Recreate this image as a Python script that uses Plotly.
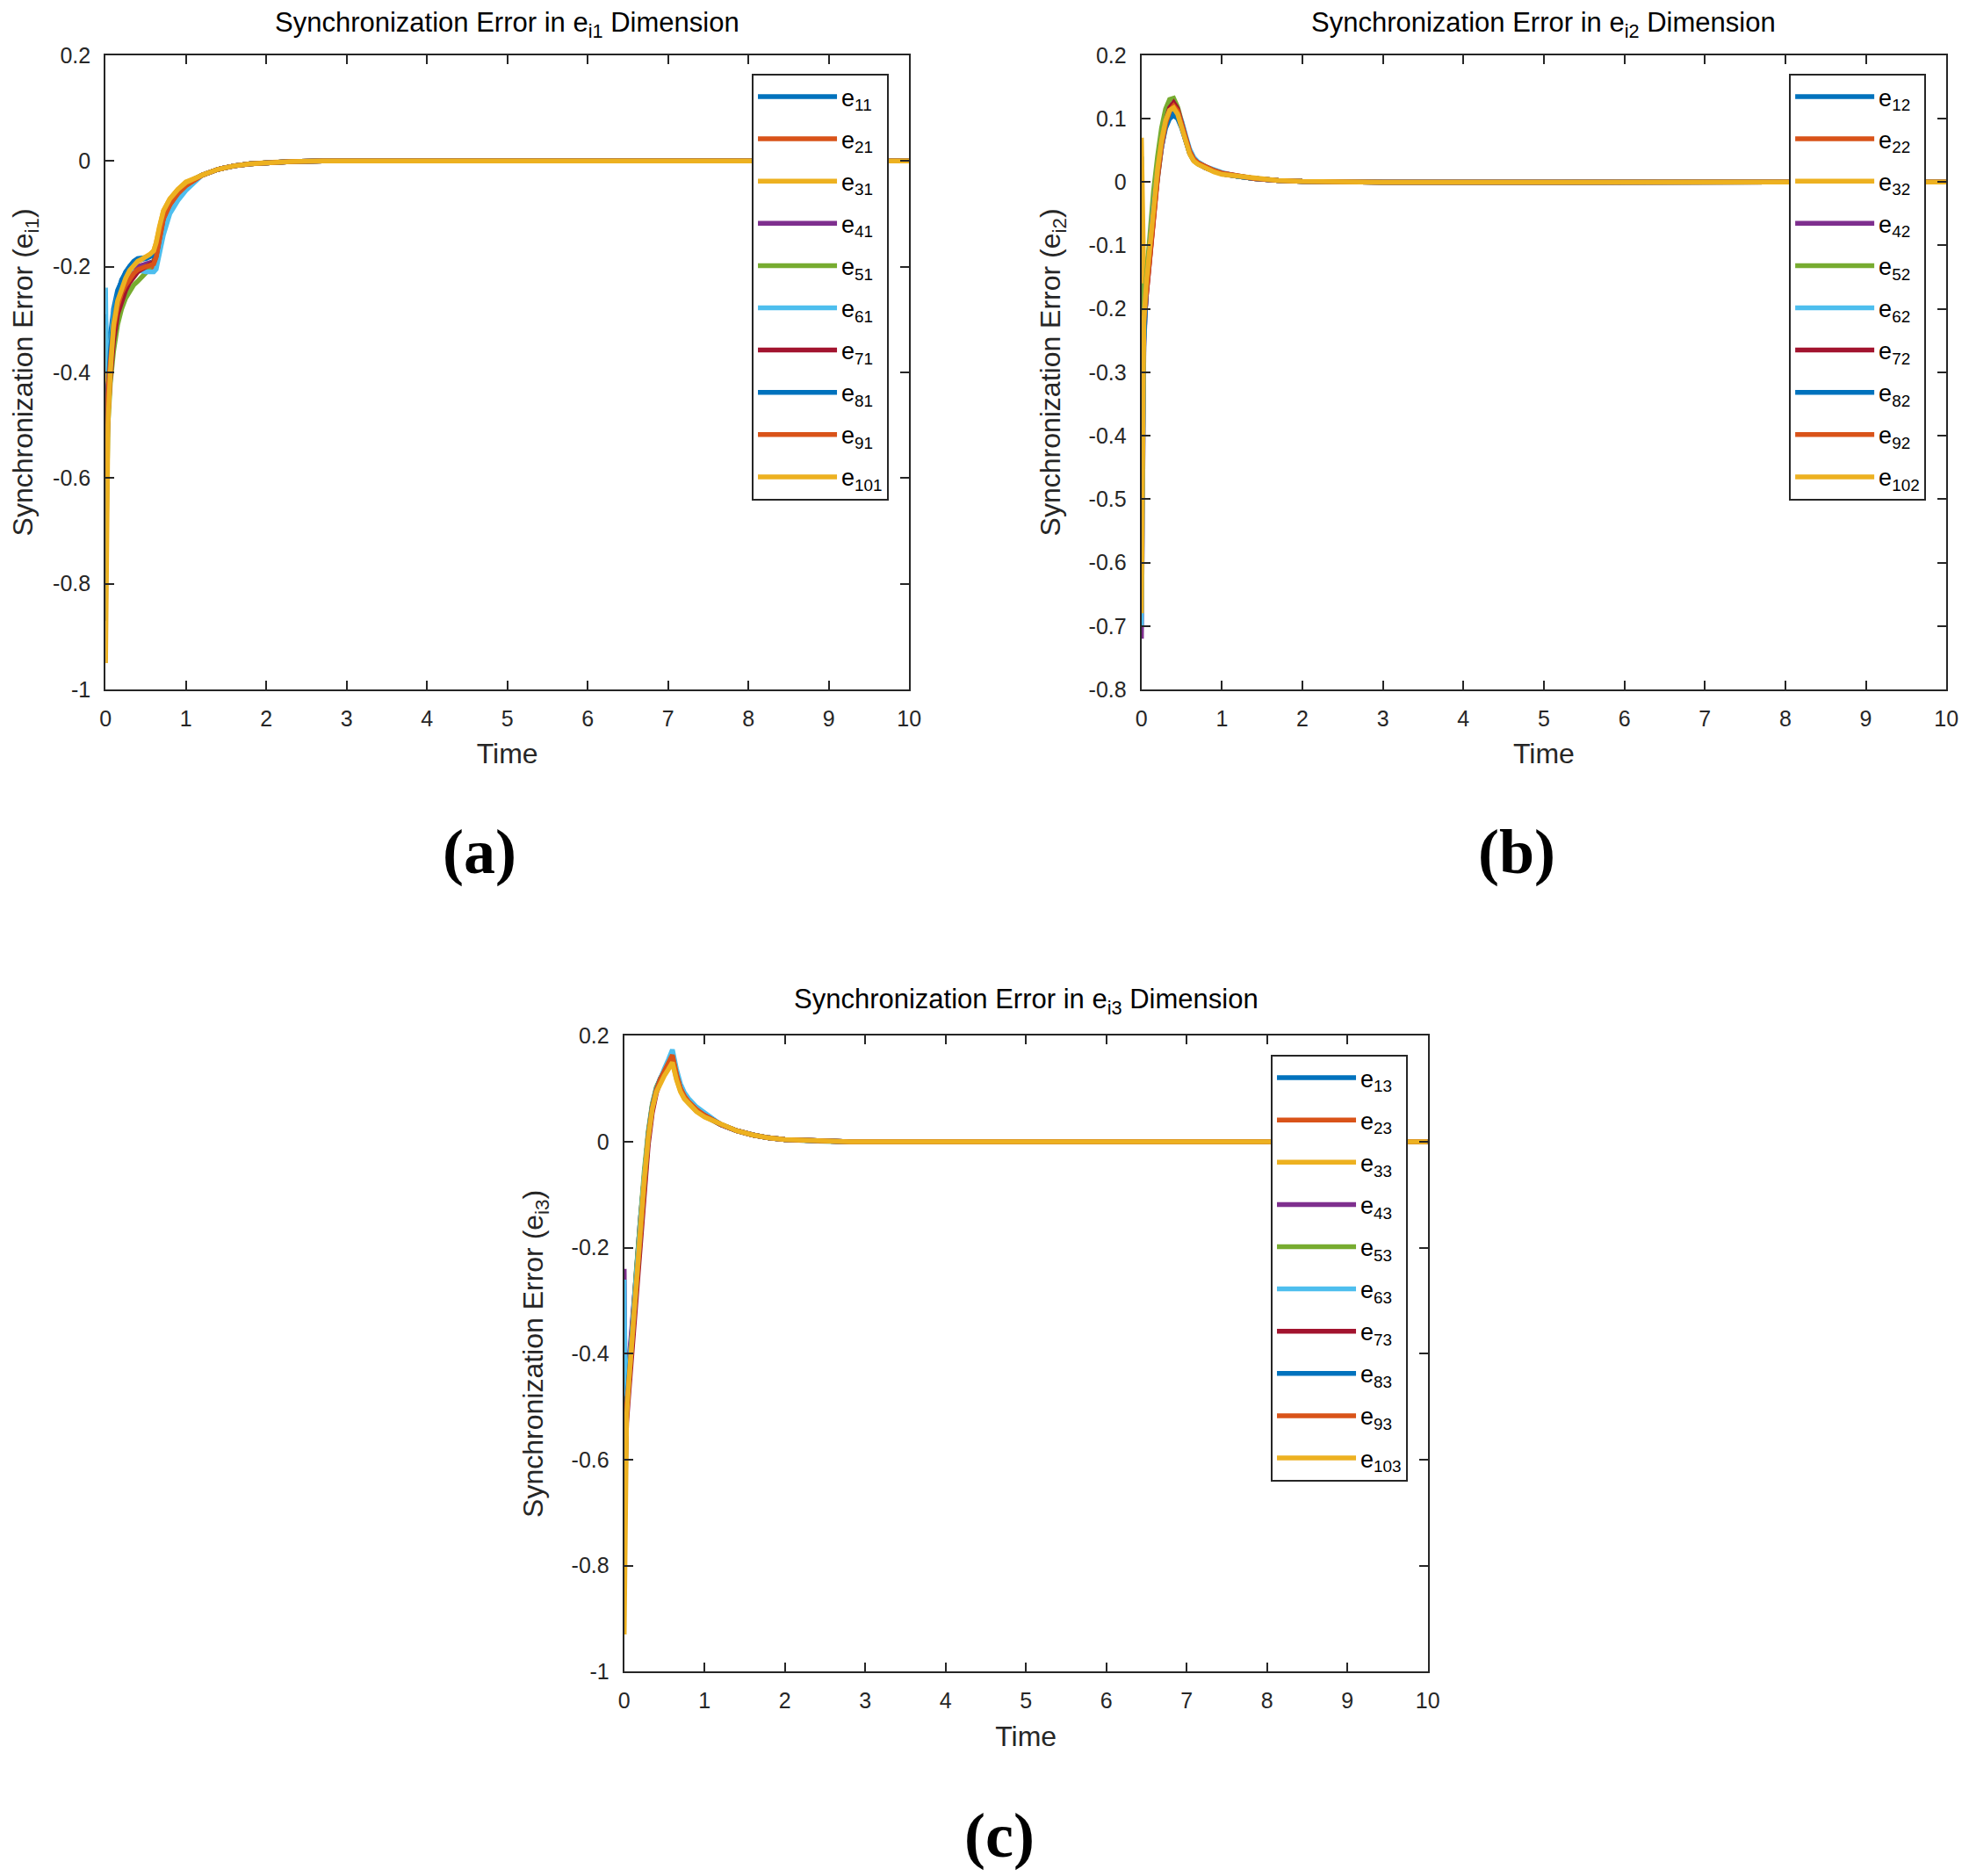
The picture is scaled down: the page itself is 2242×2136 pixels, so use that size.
import plotly.graph_objects as go

# MATLAB default line colours
BLUE = "#0072BD"
ORANGE = "#D95319"
YELLOW = "#EDB120"
PURPLE = "#7E2F8E"
GREEN = "#77AC30"
LIGHTBLUE = "#4DBEEE"
DARKRED = "#A2142F"
SERIES_COLORS = [BLUE, ORANGE, YELLOW, PURPLE, GREEN, LIGHTBLUE, DARKRED, BLUE, ORANGE, YELLOW]

AGENTS = ["1", "2", "3", "4", "5", "6", "7", "8", "9", "10"]

# ---- (a) e_i1 ----
time_a = [0, 0.01, 0.03, 0.06, 0.1, 0.15, 0.2, 0.25, 0.3, 0.35, 0.4, 0.45, 0.5, 0.55, 0.6, 0.63, 0.67,
          0.72, 0.8, 0.9, 1.0, 1.2, 1.4, 1.6, 1.8, 2.0, 2.3, 2.7, 10]
tail_a = [-0.027, -0.016, -0.0095, -0.0055, -0.003, -0.0012, -0.0003, 0]
e_11 = [-0.29, -0.36, -0.37, -0.33, -0.28, -0.245, -0.225, -0.21, -0.2, -0.19, -0.185, -0.185, -0.183, -0.18, -0.175, -0.16, -0.13, -0.1, -0.075, -0.056, -0.043]
e_21 = [-0.53, -0.47, -0.42, -0.37, -0.31, -0.27, -0.245, -0.23, -0.22, -0.21, -0.205, -0.2, -0.198, -0.2, -0.205, -0.19, -0.15, -0.115, -0.085, -0.063, -0.048]
e_31 = [-0.31, -0.4, -0.42, -0.36, -0.3, -0.26, -0.235, -0.22, -0.205, -0.195, -0.19, -0.187, -0.183, -0.178, -0.17, -0.155, -0.125, -0.095, -0.072, -0.054, -0.04]
e_41 = [-0.45, -0.46, -0.43, -0.38, -0.32, -0.28, -0.25, -0.235, -0.22, -0.21, -0.2, -0.197, -0.195, -0.192, -0.19, -0.175, -0.14, -0.105, -0.08, -0.06, -0.045]
e_51 = [-0.78, -0.6, -0.5, -0.42, -0.36, -0.31, -0.28, -0.26, -0.245, -0.235, -0.228, -0.22, -0.212, -0.2, -0.19, -0.175, -0.14, -0.105, -0.08, -0.06, -0.045]
e_61 = [-0.24, -0.38, -0.4, -0.35, -0.29, -0.255, -0.235, -0.222, -0.214, -0.21, -0.208, -0.208, -0.21, -0.21, -0.21, -0.205, -0.175, -0.14, -0.1, -0.075, -0.056]
e_71 = [-0.67, -0.55, -0.48, -0.41, -0.34, -0.29, -0.265, -0.245, -0.23, -0.22, -0.21, -0.205, -0.2, -0.197, -0.192, -0.18, -0.145, -0.108, -0.082, -0.061, -0.046]
e_81 = [-0.87, -0.58, -0.44, -0.36, -0.3, -0.255, -0.225, -0.21, -0.2, -0.192, -0.188, -0.186, -0.185, -0.182, -0.178, -0.165, -0.133, -0.1, -0.076, -0.057, -0.043]
e_91 = [-0.6, -0.5, -0.44, -0.38, -0.32, -0.275, -0.25, -0.235, -0.222, -0.213, -0.206, -0.202, -0.2, -0.198, -0.195, -0.182, -0.147, -0.11, -0.083, -0.062, -0.047]
e_101 = [-0.95, -0.75, -0.5, -0.4, -0.31, -0.265, -0.24, -0.222, -0.207, -0.197, -0.19, -0.186, -0.182, -0.177, -0.17, -0.155, -0.125, -0.095, -0.072, -0.054, -0.041]
heads_a = [e_11, e_21, e_31, e_41, e_51, e_61, e_71, e_81, e_91, e_101]

# ---- (b) e_i2 ----
time_b = [0, 0.01, 0.03, 0.06, 0.1, 0.15, 0.2, 0.25, 0.3, 0.35, 0.4, 0.45, 0.5, 0.55, 0.6, 0.65, 0.7,
          0.8, 0.9, 1.0, 1.2, 1.4, 1.7, 2.0, 3.0, 10]
tail_b = [0.009, 0.0055, 0.0025, 0.001, -0.0005, 0]
e_12 = [0.04, -0.2, -0.2, -0.17, -0.115, -0.045, 0.01, 0.055, 0.085, 0.1, 0.105, 0.1, 0.085, 0.063, 0.045, 0.034, 0.029, 0.022, 0.017, 0.013]
e_22 = [-0.39, -0.3, -0.23, -0.18, -0.125, -0.055, 0.005, 0.055, 0.09, 0.11, 0.118, 0.11, 0.092, 0.068, 0.048, 0.036, 0.03, 0.023, 0.018, 0.014]
e_32 = [0.07, -0.05, -0.16, -0.15, -0.1, -0.035, 0.02, 0.065, 0.095, 0.113, 0.117, 0.108, 0.09, 0.066, 0.045, 0.034, 0.029, 0.022, 0.017, 0.013]
e_42 = [-0.72, -0.45, -0.26, -0.17, -0.11, -0.04, 0.015, 0.06, 0.093, 0.11, 0.115, 0.107, 0.09, 0.066, 0.046, 0.035, 0.029, 0.022, 0.017, 0.013]
e_52 = [-0.16, -0.21, -0.2, -0.15, -0.09, -0.015, 0.04, 0.085, 0.115, 0.13, 0.132, 0.118, 0.095, 0.07, 0.048, 0.036, 0.03, 0.023, 0.018, 0.014]
e_62 = [-0.7, -0.4, -0.25, -0.17, -0.11, -0.04, 0.015, 0.062, 0.095, 0.112, 0.118, 0.112, 0.096, 0.073, 0.052, 0.039, 0.032, 0.024, 0.019, 0.015]
e_72 = [-0.3, -0.27, -0.23, -0.18, -0.125, -0.05, 0.01, 0.06, 0.095, 0.117, 0.125, 0.115, 0.095, 0.07, 0.048, 0.036, 0.03, 0.023, 0.018, 0.014]
e_82 = [-0.6, -0.42, -0.25, -0.17, -0.11, -0.04, 0.012, 0.058, 0.09, 0.105, 0.108, 0.102, 0.087, 0.064, 0.045, 0.034, 0.029, 0.022, 0.017, 0.013]
e_92 = [-0.33, -0.28, -0.22, -0.175, -0.12, -0.05, 0.008, 0.058, 0.092, 0.112, 0.12, 0.112, 0.093, 0.069, 0.048, 0.036, 0.03, 0.023, 0.018, 0.014]
e_102 = [-0.68, -0.45, -0.22, -0.16, -0.105, -0.035, 0.02, 0.065, 0.097, 0.113, 0.117, 0.107, 0.088, 0.065, 0.044, 0.033, 0.028, 0.021, 0.016, 0.012]
heads_b = [e_12, e_22, e_32, e_42, e_52, e_62, e_72, e_82, e_92, e_102]

# ---- (c) e_i3 ----
time_c = [0, 0.01, 0.03, 0.06, 0.1, 0.15, 0.2, 0.25, 0.3, 0.35, 0.4, 0.45, 0.5, 0.55, 0.6, 0.65, 0.7,
          0.75, 0.8, 0.9, 1.0, 1.2, 1.4, 1.6, 1.8, 2.0, 2.4, 2.8, 10]
tail_c = [0.033, 0.021, 0.013, 0.0075, 0.0045, 0.0015, 0.0003, 0]
e_13 = [-0.46, -0.48, -0.49, -0.43, -0.36, -0.25, -0.15, -0.06, 0.015, 0.068, 0.1, 0.12, 0.134, 0.148, 0.16, 0.124, 0.1, 0.085, 0.075, 0.06, 0.05]
e_23 = [-0.53, -0.52, -0.5, -0.45, -0.38, -0.27, -0.165, -0.075, 0.005, 0.062, 0.097, 0.118, 0.133, 0.15, 0.167, 0.13, 0.102, 0.087, 0.077, 0.062, 0.051]
e_33 = [-0.31, -0.45, -0.48, -0.43, -0.36, -0.255, -0.155, -0.065, 0.012, 0.065, 0.097, 0.115, 0.128, 0.14, 0.152, 0.12, 0.097, 0.082, 0.073, 0.058, 0.048]
e_43 = [-0.24, -0.42, -0.47, -0.42, -0.355, -0.25, -0.15, -0.06, 0.015, 0.068, 0.1, 0.119, 0.133, 0.147, 0.161, 0.126, 0.1, 0.085, 0.075, 0.06, 0.05]
e_53 = [-0.775, -0.6, -0.5, -0.43, -0.36, -0.245, -0.145, -0.055, 0.02, 0.072, 0.103, 0.121, 0.135, 0.148, 0.161, 0.126, 0.1, 0.085, 0.075, 0.06, 0.05]
e_63 = [-0.26, -0.44, -0.48, -0.43, -0.36, -0.255, -0.155, -0.065, 0.012, 0.067, 0.1, 0.122, 0.138, 0.155, 0.174, 0.138, 0.11, 0.093, 0.082, 0.066, 0.055]
e_73 = [-0.7, -0.6, -0.53, -0.47, -0.39, -0.28, -0.175, -0.085, -0.005, 0.055, 0.092, 0.114, 0.13, 0.145, 0.16, 0.125, 0.1, 0.085, 0.075, 0.06, 0.05]
e_83 = [-0.78, -0.58, -0.5, -0.44, -0.37, -0.26, -0.16, -0.07, 0.01, 0.065, 0.098, 0.118, 0.132, 0.146, 0.159, 0.124, 0.099, 0.084, 0.074, 0.059, 0.049]
e_93 = [-0.55, -0.52, -0.5, -0.45, -0.375, -0.265, -0.163, -0.072, 0.008, 0.064, 0.097, 0.118, 0.133, 0.148, 0.164, 0.128, 0.101, 0.086, 0.076, 0.061, 0.05]
e_103 = [-0.93, -0.78, -0.52, -0.45, -0.37, -0.26, -0.16, -0.07, 0.008, 0.062, 0.094, 0.112, 0.125, 0.137, 0.15, 0.118, 0.095, 0.081, 0.072, 0.057, 0.047]
heads_c = [e_13, e_23, e_33, e_43, e_53, e_63, e_73, e_83, e_93, e_103]

# tick labels (MATLAB style, hyphen minus)
x_ticks = [0, 1, 2, 3, 4, 5, 6, 7, 8, 9, 10]
y_ticks_ac = [-1, -0.8, -0.6, -0.4, -0.2, 0, 0.2]
y_text_ac = ["-1", "-0.8", "-0.6", "-0.4", "-0.2", "0", "0.2"]
y_ticks_b = [-0.8, -0.7, -0.6, -0.5, -0.4, -0.3, -0.2, -0.1, 0, 0.1, 0.2]
y_text_b = ["-0.8", "-0.7", "-0.6", "-0.5", "-0.4", "-0.3", "-0.2", "-0.1", "0", "0.1", "0.2"]

FONT = "Liberation Sans, Arial, sans-serif"
INK = "#262626"
W, H = 2242, 2136
# page body has an 8px margin, shift everything back by that much
DX = 8 / W
DY = 8 / H

fig = go.Figure()


def add_panel(n, dim, time, heads, tail):
    sfx = "" if n == 1 else str(n)
    for k, head in enumerate(heads):
        fig.add_trace(go.Scatter(
            x=time, y=head + tail, mode="lines",
            name="e<sub>" + AGENTS[k] + dim + "</sub>",
            line=dict(color=SERIES_COLORS[k], width=5.5),
            xaxis="x" + sfx, yaxis="y" + sfx,
            legend="legend" + sfx, legendgroup="g" + sfx + "_" + str(k),
        ))


add_panel(1, "1", time_a, heads_a, tail_a)
add_panel(2, "2", time_b, heads_b, tail_b)
add_panel(3, "3", time_c, heads_c, tail_c)


def px(a, b):
    return [a - DX, b - DX]


def py(a, b):
    return [a + DY, b + DY]


def x_axis(domain, anchor):
    return dict(domain=domain, anchor=anchor, range=[0, 10], tickvals=x_ticks, automargin=False,
                ticks="inside", ticklen=10, tickwidth=2, tickcolor=INK, mirror="ticks",
                showline=True, linewidth=2, linecolor=INK, showgrid=False, zeroline=False,
                tickfont=dict(family=FONT, size=25, color=INK), ticklabelstandoff=10,
                title=dict(text="Time", font=dict(family=FONT, size=32, color=INK), standoff=16))


def y_axis(domain, anchor, rng, vals, text, dim):
    return dict(domain=domain, anchor=anchor, range=rng, tickvals=vals, ticktext=text, automargin=False,
                ticks="inside", ticklen=10, tickwidth=2, tickcolor=INK, mirror="ticks",
                showline=True, linewidth=2, linecolor=INK, showgrid=False, zeroline=False,
                tickfont=dict(family=FONT, size=25, color=INK), ticklabelstandoff=10,
                title=dict(text="Synchronization Error (e<sub>i" + dim + "</sub>)",
                           font=dict(family=FONT, size=32, color=INK), standoff=22))


def legend_box(x, y):
    return dict(x=x - DX, y=y + DY, xanchor="right", yanchor="top", bgcolor="white",
                bordercolor=INK, borderwidth=2, tracegroupgap=10, itemwidth=90,
                font=dict(family=FONT, size=27, color="black"))


ya = py(0.6325, 0.9706)
yc = py(0.1090, 0.4478)
fig.update_layout(
    width=W, height=H,
    margin=dict(l=0, r=0, t=0, b=0),
    paper_bgcolor="white", plot_bgcolor="white",
    showlegend=True,
    xaxis=x_axis(px(0.0536, 0.4617), "y"),
    yaxis=y_axis(ya, "x", [-1, 0.2], y_ticks_ac, y_text_ac, "1"),
    xaxis2=x_axis(px(0.5797, 0.9885), "y2"),
    yaxis2=y_axis(ya, "x2", [-0.8, 0.2], y_ticks_b, y_text_b, "2"),
    xaxis3=x_axis(px(0.3170, 0.7251), "y3"),
    yaxis3=y_axis(yc, "x3", [-1, 0.2], y_ticks_ac, y_text_ac, "3"),
    legend=legend_box(0.4514, 0.9607),
    legend2=legend_box(0.9782, 0.9607),
    legend3=legend_box(0.7150, 0.4377),
)

# top titles sit a few px lower so their boxes stay inside the figure
titles = [(0.2576, 0.9870, "1"), (0.7841, 0.9870, "2"), (0.5212, 0.4663, "3")]
for tx, ty, dim in titles:
    fig.add_annotation(x=tx - DX, y=ty + DY, xref="paper", yref="paper", showarrow=False,
                       xanchor="center", yanchor="middle",
                       text="Synchronization Error in e<sub>i" + dim + "</sub> Dimension",
                       font=dict(family=FONT, size=31, color="black"))

panel_tags = [(0.2435, 0.5459, "(a)"), (0.7703, 0.5459, "(b)"), (0.5076, 0.0215, "(c)")]
for tx, ty, tag in panel_tags:
    fig.add_annotation(x=tx - DX, y=ty + DY, xref="paper", yref="paper", showarrow=False,
                       xanchor="center", yanchor="middle",
                       text="<b>" + tag + "</b>",
                       font=dict(family="Liberation Serif, DejaVu Serif, serif", size=72, color="black"))

fig.write_html("out.html")
